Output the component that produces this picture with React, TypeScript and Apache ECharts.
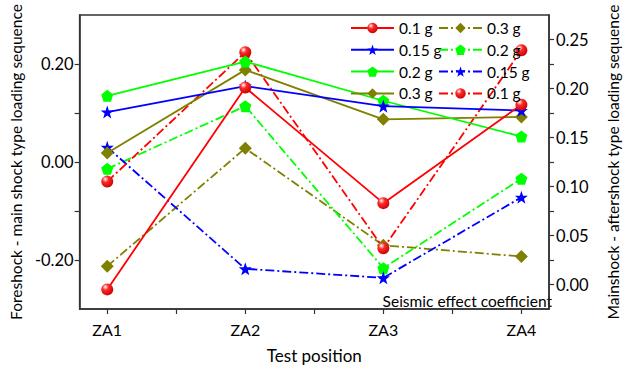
import React, { useEffect, useRef } from "react";
import * as echarts from "echarts";

const categories = ["ZA1", "ZA2", "ZA3", "ZA4"];
const xPositions = [1, 2, 3, 4];

// Foreshock - main shock (left axis, solid lines)
const fm01 = [-0.26, 0.152, -0.084, 0.117];
const fm015 = [0.102, 0.155, 0.114, 0.105];
const fm02 = [0.135, 0.205, 0.125, 0.052];
const fm03 = [0.0185, 0.188, 0.087, 0.092];

// Mainshock - aftershock (right axis, dash-dot lines)
const ma01 = [0.105, 0.237, 0.037, 0.239];
const ma015 = [0.14, 0.016, 0.0068, 0.089];
const ma02 = [0.118, 0.182, 0.0167, 0.108];
const ma03 = [0.0187, 0.139, 0.04, 0.0286];

const leftTicks = [-0.2, 0, 0.2];
const rightTicks = [0, 0.05, 0.1, 0.15, 0.2, 0.25];

const STAR =
  "path://M0,-10 L2.35,-3.24 L9.51,-3.09 L3.8,1.24 L5.88,8.09 L0,4 L-5.88,8.09 L-3.8,1.24 L-9.51,-3.09 L-2.35,-3.24 Z";
const PENTA = "path://M0,-10 L9.51,-3.09 L5.88,8.09 L-5.88,8.09 L-9.51,-3.09 Z";

const FONT = "Lato";

const labels: Record<string, string> = {
  s01: "0.1 g",
  s015: "0.15 g",
  s02: "0.2 g",
  s03: "0.3 g",
  d03: "0.3 g",
  d02: "0.2 g",
  d015: "0.15 g",
  d01: "0.1 g",
};

export default function App() {
  const ref = useRef<HTMLDivElement>(null);
  useEffect(() => {
    document.body.style.margin = "0";
    const chart = echarts.init(ref.current!, null, { renderer: "svg" });
    const sphere = new echarts.graphic.RadialGradient(0.35, 0.3, 0.75, [
      { offset: 0, color: "#ffffff" },
      { offset: 0.35, color: "#ff2a2a" },
      { offset: 1, color: "#c80000" },
    ]);
    const dashDot = [9, 3, 2, 3];
    const toPts = (arr: number[]) => arr.map((v, i) => [xPositions[i], v]);
    const mk = (
      id: string,
      data: number[],
      color: string,
      symbol: string,
      size: number,
      axis: number,
      dashed: boolean,
      markerColor?: any
    ) => ({
      name: id,
      type: "line",
      yAxisIndex: axis,
      data: toPts(data),
      symbol,
      symbolSize: size,
      lineStyle: { color, width: 1.8, type: dashed ? dashDot : "solid" },
      itemStyle: { color: markerColor || color },
      z: dashed ? 2 : 3,
    });
    const series = [
      mk("d03", ma03, "#808000", "diamond", 13, 1, true),
      mk("d02", ma02, "#00ff00", PENTA, 12, 1, true),
      mk("d015", ma015, "#0000ff", STAR, 13, 1, true),
      mk("d01", ma01, "#ff0000", "circle", 12, 1, true, sphere),
      mk("s03", fm03, "#808000", "diamond", 13, 0, false),
      mk("s02", fm02, "#00ff00", PENTA, 12, 0, false),
      mk("s015", fm015, "#0000ff", STAR, 13, 0, false),
      mk("s01", fm01, "#ff0000", "circle", 12, 0, false, sphere),
    ];
    const legendBase = {
      orient: "vertical",
      top: 20,
      itemWidth: 43,
      itemHeight: 13,
      itemGap: 5.8,
      padding: 0,
      textStyle: { fontFamily: FONT, fontSize: 15.5, color: "#000" },
      formatter: (n: string) => labels[n],
    };
    const axisLine = { show: true, onZero: false, lineStyle: { color: "#333", width: 1.5 } };
    chart.setOption({
      animation: false,
      textStyle: { fontFamily: FONT },
      grid: {
        left: 71,
        top: 15,
        right: 66,
        bottom: 53,
        show: true,
        borderColor: "#333",
        borderWidth: 1.5,
        backgroundColor: "transparent",
      },
      legend: [
        { ...legendBase, left: 350, data: ["s01", "s015", "s02", "s03"] },
        { ...legendBase, left: 438, data: ["d03", "d02", "d015", "d01"] },
      ],
      xAxis: {
        type: "value",
        min: 0.8,
        max: 4.2,
        splitLine: { show: false },
        axisLine,
        axisTick: {
          show: true,
          length: 5,
          lineStyle: { color: "#333", width: 1.2 },
          customValues: [1, 1.5, 2, 2.5, 3, 3.5, 4],
        },
        axisLabel: {
          customValues: xPositions,
          formatter: (v: number) => categories[Math.round(v) - 1] ?? "",
          fontFamily: FONT,
          fontSize: 16,
          color: "#000",
          margin: 12,
        },
        name: "Test position",
        nameLocation: "middle",
        nameGap: 38,
        nameTextStyle: { fontFamily: FONT, fontSize: 17, color: "#000" },
      },
      yAxis: [
        {
          type: "value",
          min: -0.3,
          max: 0.3,
          splitLine: { show: false },
          axisLine,
          axisTick: {
            show: true,
            length: 5,
            lineStyle: { color: "#333", width: 1.2 },
            customValues: [-0.2, -0.1, 0, 0.1, 0.2],
          },
          axisLabel: {
            customValues: leftTicks,
            formatter: (v: number) => v.toFixed(2),
            fontFamily: FONT,
            fontSize: 16.5,
            color: "#000",
            margin: 6,
          },
          name: "Foreshock - main shock type loading sequence",
          nameLocation: "middle",
          nameGap: 52,
          nameTextStyle: { fontFamily: FONT, fontSize: 15.5, color: "#000" },
        },
        {
          type: "value",
          min: -0.025,
          max: 0.275,
          splitLine: { show: false },
          axisLine,
          axisTick: {
            show: true,
            length: 5,
            lineStyle: { color: "#333", width: 1.2 },
            customValues: [0, 0.025, 0.05, 0.075, 0.1, 0.125, 0.15, 0.175, 0.2, 0.225, 0.25],
          },
          axisLabel: {
            customValues: rightTicks,
            formatter: (v: number) => v.toFixed(2),
            fontFamily: FONT,
            fontSize: 16.5,
            color: "#000",
            margin: 7,
          },
          name: "Mainshock - aftershock type loading sequence",
          nameLocation: "middle",
          nameGap: 56,
          nameRotate: 90,
          nameTextStyle: { fontFamily: FONT, fontSize: 15.5, color: "#000" },
        },
      ],
      graphic: [
        {
          type: "text",
          right: 77,
          top: 293,
          style: {
            text: "Seismic effect coefficient",
            fontFamily: FONT,
            fontSize: 15.5,
            fill: "#000",
          },
        },
      ],
      series,
    });
    return () => chart.dispose();
  }, []);
  return <div ref={ref} style={{ width: 629, height: 369 }} />;
}
